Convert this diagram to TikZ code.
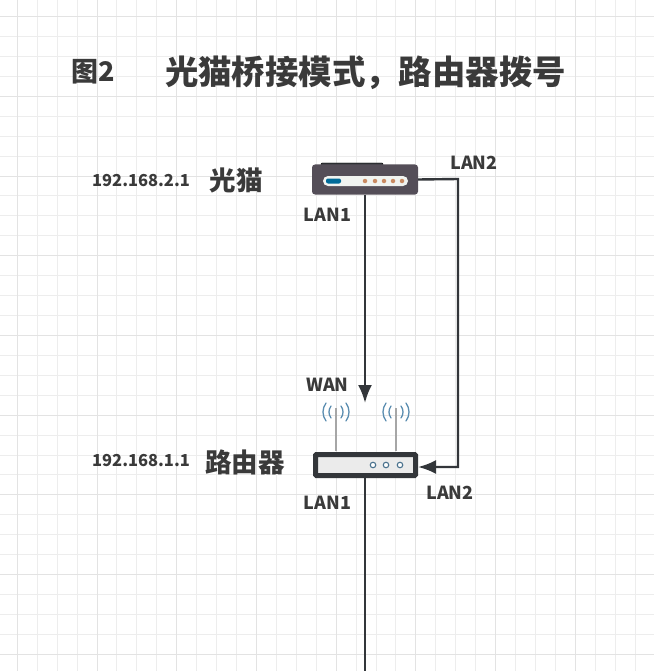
\documentclass[tikz,border=0pt]{standalone}
\usepackage{fontspec}
\setmainfont{Noto Sans CJK SC}
\usetikzlibrary{arrows.meta}
\usetikzlibrary{positioning}
\definecolor{ink}{HTML}{3A3A3A}
\definecolor{case}{HTML}{544E58}
\definecolor{wire}{HTML}{33363A}
\definecolor{wave}{HTML}{5B8DB0}
\definecolor{pale}{HTML}{F0F3F0}
\definecolor{ledc}{HTML}{C98A62}
\begin{document}
\begin{tikzpicture}[x=1pt, y=-1pt]
	\tikzstyle{la}=[text=ink, font=\fontsize{18}{20}\selectfont\bfseries, inner sep=0pt];
	\tikzstyle{ip}=[text=ink, font=\fontsize{16.5}{20}\selectfont\bfseries, inner sep=0pt];
	\tikzstyle{dev}=[text=ink, font=\fontsize{26.5}{30}\selectfont\bfseries, inner sep=0pt];
	\tikzstyle{link}=[draw=wire, line width=2.4pt];
	\tikzstyle{wavy}=[draw=wave, line width=1.3pt, line cap=round];
	\tikzstyle{ledp}=[circle, fill=ledc, inner sep=0pt, minimum width=4.5pt];
	\tikzstyle{hole}=[circle, draw=wave!80!black, fill=white, line width=1.1pt, inner sep=0pt, minimum width=5.5pt];
	\useasboundingbox (0,0) rectangle (654,671);
	% grid paper
	\foreach \k in {-1,0,...,32}
	{\draw[black!7, line width=1pt] (17.3+19.93*\k,0) -- (17.3+19.93*\k,671);
	\draw[black!7, line width=1pt] (0,16.6+19.93*\k) -- (654,16.6+19.93*\k);}
	\foreach \k in {0,4,...,32}
	{\draw[black!11, line width=1pt] (17.3+19.93*\k,0) -- (17.3+19.93*\k,671);
	\draw[black!11, line width=1pt] (0,16.6+19.93*\k) -- (654,16.6+19.93*\k);}
	% title
	\node[dev, font=\fontsize{27}{30}\selectfont\bfseries] (fig) at (93,72) {图2};
	\node[dev, font=\fontsize{33.4}{40}\selectfont\bfseries] (title) at (365.5,73) {光猫桥接模式，路由器拨号};
	% modem
	\draw[fill=wire, rounded corners=1pt] (321,163) rectangle (383,168);
	\node[fill=case, rounded corners=3pt, inner sep=0pt, minimum width=106pt, minimum height=30pt] (modem) at (365,179.5) {};
	\node[fill=pale, rounded corners=5pt, inner sep=0pt, minimum width=85pt, minimum height=10pt] (panel) at (365.5,181) {};
	\node[fill=blue!30!cyan!60!black, rounded corners=2pt, inner sep=0pt, minimum width=15pt, minimum height=5pt] (pill) at (333.5,181) {};
	\foreach \i in {365,375,384,393,402}
	{\node[ledp] (led\i) at (\i,181) {};}
	% router
	\node[draw=wire, line width=5pt, fill=black!8, rounded corners=1pt, inner sep=0pt, minimum width=100pt, minimum height=21pt] (router) at (365.5,465) {};
	\foreach \i in {373,386,400}
	{\node[hole] (hole\i) at (\i,465) {};}
	% antennas
	\foreach \i in {336,396}
	{
	\coordinate (tip\i) at (\i,408);
	\draw[black!35, line width=1.3pt] (\i,451) -- (tip\i);
	\draw[wavy] (\i-5,406) to[bend right=35] (\i-5,418);
	\draw[wavy] (\i+5,406) to[bend left=35] (\i+5,418);
	\draw[wavy] (\i-10,403) to[bend right=35] (\i-10,421);
	\draw[wavy] (\i+10,403) to[bend left=35] (\i+10,421);
	}
	% links
	\coordinate (wan) at (365,403);
	\coordinate (turnA) at (458,179);
	\coordinate (turnB) at (458,467);
	\coordinate (lanend) at (365,671);
	\draw[link, -{Latex[length=18pt, width=14pt]}] (modem.south -| wan) -- (wan);
	\draw[link, -{Latex[length=18pt, width=14pt]}] (modem.east) -- (turnA) -- (turnB) -- (router.east |- turnB);
	\draw[link] (router.south -| wan) -- (lanend);
	% labels
	\node[ip] (ipa) at (141,181) {192.168.2.1};
	\node[dev] (nama) at (236,180) {光猫};
	\node[la] (lana) at (327.5,215) {LAN1};
	\node[la] (lanb) at (474,163) {LAN2};
	\node[la] (wanl) at (327.5,385) {WAN};
	\node[ip] (ipb) at (141,461) {192.168.1.1};
	\node[dev] (namb) at (245,462) {路由器};
	\node[la] (lanc) at (327.5,503) {LAN1};
	\node[la] (land) at (450,493) {LAN2};
\end{tikzpicture}
\end{document}
